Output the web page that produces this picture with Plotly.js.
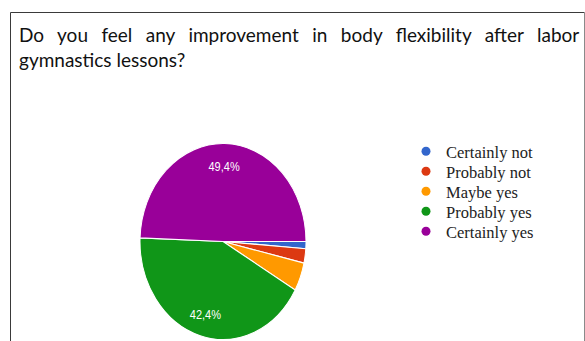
<!DOCTYPE html>
<html><head><meta charset="utf-8">
<script src="https://cdn.plot.ly/plotly-3.0.1.min.js"></script>
<style>html,body{margin:0;padding:0;background:#fff}#chart{width:585px;height:341px}</style>
</head><body><div id="chart"></div>
<script>
const categories = ['Certainly not', 'Probably not', 'Maybe yes', 'Probably yes', 'Certainly yes'];
const responses = [1, 2, 4, 36, 42];
const colors = ['#3366cc', '#dc3912', '#ff9900', '#109618', '#990099'];
const showLabel = [false, false, false, true, true];
const titleLine1 = 'Do you feel any improvement in body flexibility after labor';
const titleLine2 = 'gymnastics lessons?';

const W = 585, H = 341;
const titleFont = 'Lato', titleSize = 19;
const ctx = document.createElement('canvas').getContext('2d');
ctx.font = titleSize + 'px ' + titleFont;
const natural = ctx.measureText(titleLine1).width;
const gaps = titleLine1.split(' ').length - 1;
const ws = Math.max(0, (562.5 - natural) / gaps);

const pieDomain = {x: [140 / W, 306 / W], y: [1 - 324.5 / H, 1 - 158.5 / H]};
const pieTrace = {
  type: 'pie', labels: categories, values: responses, sort: false,
  direction: 'clockwise', rotation: 90,
  marker: {colors: colors, line: {color: '#ffffff', width: 1}},
  textinfo: 'none', domain: pieDomain, showlegend: false, hoverinfo: 'none'
};
const labelTrace = {
  type: 'pie', labels: categories, values: responses, sort: false,
  direction: 'clockwise', rotation: 90, hole: 0.54,
  marker: {colors: categories.map(() => 'rgba(0,0,0,0)'), line: {width: 0}},
  texttemplate: showLabel.map(s => s ? '%{percent:.1%}' : ''),
  textposition: 'inside', insidetextorientation: 'horizontal',
  textfont: {family: 'Liberation Sans, Arial', size: 11, color: '#ffffff'},
  domain: pieDomain, showlegend: false, hoverinfo: 'none'
};
const legendTraces = categories.map((c, i) => ({
  type: 'scatter', mode: 'markers', x: [null], y: [null], name: c,
  marker: {color: colors[i], size: 9, symbol: 'circle'}, hoverinfo: 'none'
}));

const layout = {
  width: W, height: H, margin: {l: 0, r: 0, t: 0, b: 0},
  paper_bgcolor: '#ffffff', plot_bgcolor: '#ffffff',
  separators: ',.',
  title: {
    text: '<span style="word-spacing:' + ws.toFixed(2) + 'px">' + titleLine1 + '</span><br>' + titleLine2,
    x: 19 / W, xanchor: 'left', y: 1 - 42 / H, yanchor: 'top',
    font: {family: titleFont, size: titleSize, color: '#111'}
  },
  xaxis: {visible: false}, yaxis: {visible: false},
  showlegend: true,
  legend: {x: 406 / W, xanchor: 'left', y: 1 - 134 / H, yanchor: 'top',
    font: {family: 'Liberation Serif, Times New Roman', size: 16.5, color: '#222'},
    bgcolor: 'rgba(0,0,0,0)', itemclick: false},
  shapes: [
    {type: 'line', xref: 'paper', yref: 'paper', x0: 10.5 / W, x1: 584.5 / W, y0: 1 - 12.5 / H, y1: 1 - 12.5 / H, line: {color: '#3a3a3a', width: 1}},
    {type: 'line', xref: 'paper', yref: 'paper', x0: 10.5 / W, x1: 10.5 / W, y0: 1 - 12.5 / H, y1: 0, line: {color: '#3a3a3a', width: 1}},
    {type: 'line', xref: 'paper', yref: 'paper', x0: 584.5 / W, x1: 584.5 / W, y0: 1 - 12.5 / H, y1: 0, line: {color: '#8a8a8a', width: 1}}
  ]
};

Plotly.newPlot('chart', [pieTrace, labelTrace].concat(legendTraces), layout, {displayModeBar: false, staticPlot: true}).then(() => {
  // stretch the pie vertically into the reference's ellipse
  const traces = document.querySelectorAll('.pielayer .trace');
  if (traces.length) {
    const bb = traces[0].getBBox();
    const cx = bb.x + bb.width / 2, cy = bb.y + bb.height / 2;
    const k = 98 / 83;
    traces.forEach(g => {
      const prev = g.getAttribute('transform') || '';
      g.setAttribute('transform', `translate(${cx},${cy}) scale(1,${k}) translate(${-cx},${-cy}) ${prev}`);
    });
  }
  // tighten legend row spacing to 20px
  const items = document.querySelectorAll('.legend .traces');
  let y0 = null;
  items.forEach((it, i) => {
    const m = /translate\(\s*([-\d.]+)[ ,]+([-\d.]+)\s*\)/.exec(it.getAttribute('transform') || '');
    if (!m) return;
    if (y0 === null) y0 = parseFloat(m[2]);
    it.setAttribute('transform', `translate(${m[1]},${y0 + 20 * i})`);
  });
});
</script></body></html>
